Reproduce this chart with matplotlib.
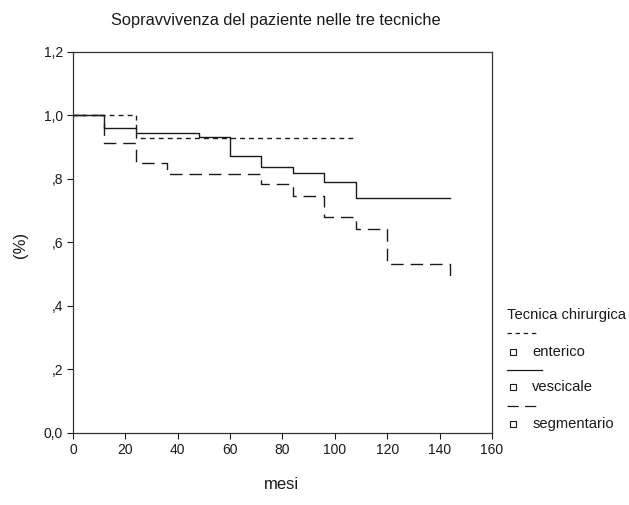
import matplotlib
matplotlib.use("Agg")
import matplotlib.pyplot as plt
from matplotlib.lines import Line2D

plt.rcParams['font.family'] = ['Liberation Sans', 'DejaVu Sans']

# Kaplan-Meier steps (months, survival)
enterico_t = [0, 24, 108]
enterico_s = [1.0, 0.93, 0.93]
vescicale_t = [0, 12, 24, 48, 60, 72, 84, 96, 108, 144]
vescicale_s = [1.0, 0.962, 0.946, 0.933, 0.873, 0.839, 0.818, 0.789, 0.741, 0.741]
segmentario_t = [0, 12, 24, 36, 72, 84, 96, 108, 120, 144]
segmentario_s = [1.0, 0.912, 0.851, 0.816, 0.784, 0.746, 0.679, 0.641, 0.532, 0.495]

y_ticks = [0.0, 0.2, 0.4, 0.6, 0.8, 1.0, 1.2]
y_labels = ["0,0", ",2", ",4", ",6", ",8", "1,0", "1,2"]
x_ticks = [0, 20, 40, 60, 80, 100, 120, 140, 160]

ink = "#1a1a1a"
short_dash = (0, (3.5, 3))
long_dash = (0, (9, 5))

fig = plt.figure(figsize=(6.29, 5.05), dpi=100)
ax = fig.add_axes([0.116, 0.1426, 0.666, 0.7545])

ax.step(enterico_t, enterico_s, where='post', color=ink, lw=1.0, linestyle=short_dash)
ax.step(vescicale_t, vescicale_s, where='post', color=ink, lw=1.0)
ax.step(segmentario_t, segmentario_s, where='post', color=ink, lw=1.0, linestyle=long_dash)

ax.set_xlim(0, 160)
ax.set_ylim(0, 1.2)
ax.set_xticks(x_ticks)
ax.set_yticks(y_ticks)
ax.set_yticklabels(y_labels)
ax.tick_params(direction='out', length=4, width=0.8, labelsize=10, colors=ink, pad=3)
for sp in ax.spines.values():
    sp.set_color("#333333")
    sp.set_linewidth(0.9)

fig.text(0.439, 0.960, "Sopravvivenza del paziente nelle tre tecniche",
         ha='center', va='center', fontsize=11.8, color=ink)
fig.text(0.448, 0.040, "mesi", ha='center', va='center', fontsize=12, color=ink)
fig.text(0.032, 0.515, "(%)", ha='center', va='center', rotation=90, fontsize=12, color=ink)

# legend drawn by hand, SPSS style
lx = 0.806
fig.text(lx, 1 - 315 / 505, "Tecnica chirurgica", ha='left', va='center', fontsize=10.6, color=ink)
entries = [("enterico", short_dash, 333, 352, 0.854),
           ("vescicale", '-', 370, 387, 0.862),
           ("segmentario", long_dash, 406, 424, 0.854)]
for label, ls, ly, ty, x2 in entries:
    fig.add_artist(Line2D([lx, x2], [1 - ly / 505, 1 - ly / 505], transform=fig.transFigure,
                          color=ink, lw=0.9, linestyle=ls))
    fig.add_artist(Line2D([0.8156], [1 - ty / 505], transform=fig.transFigure, marker='s',
                          markersize=4.2, markerfacecolor='white', markeredgecolor=ink,
                          markeredgewidth=0.8, linestyle='none'))
    fig.text(0.846, 1 - ty / 505, label, ha='left', va='center', fontsize=10.6, color=ink)

fig.savefig("out.png", dpi=100)
